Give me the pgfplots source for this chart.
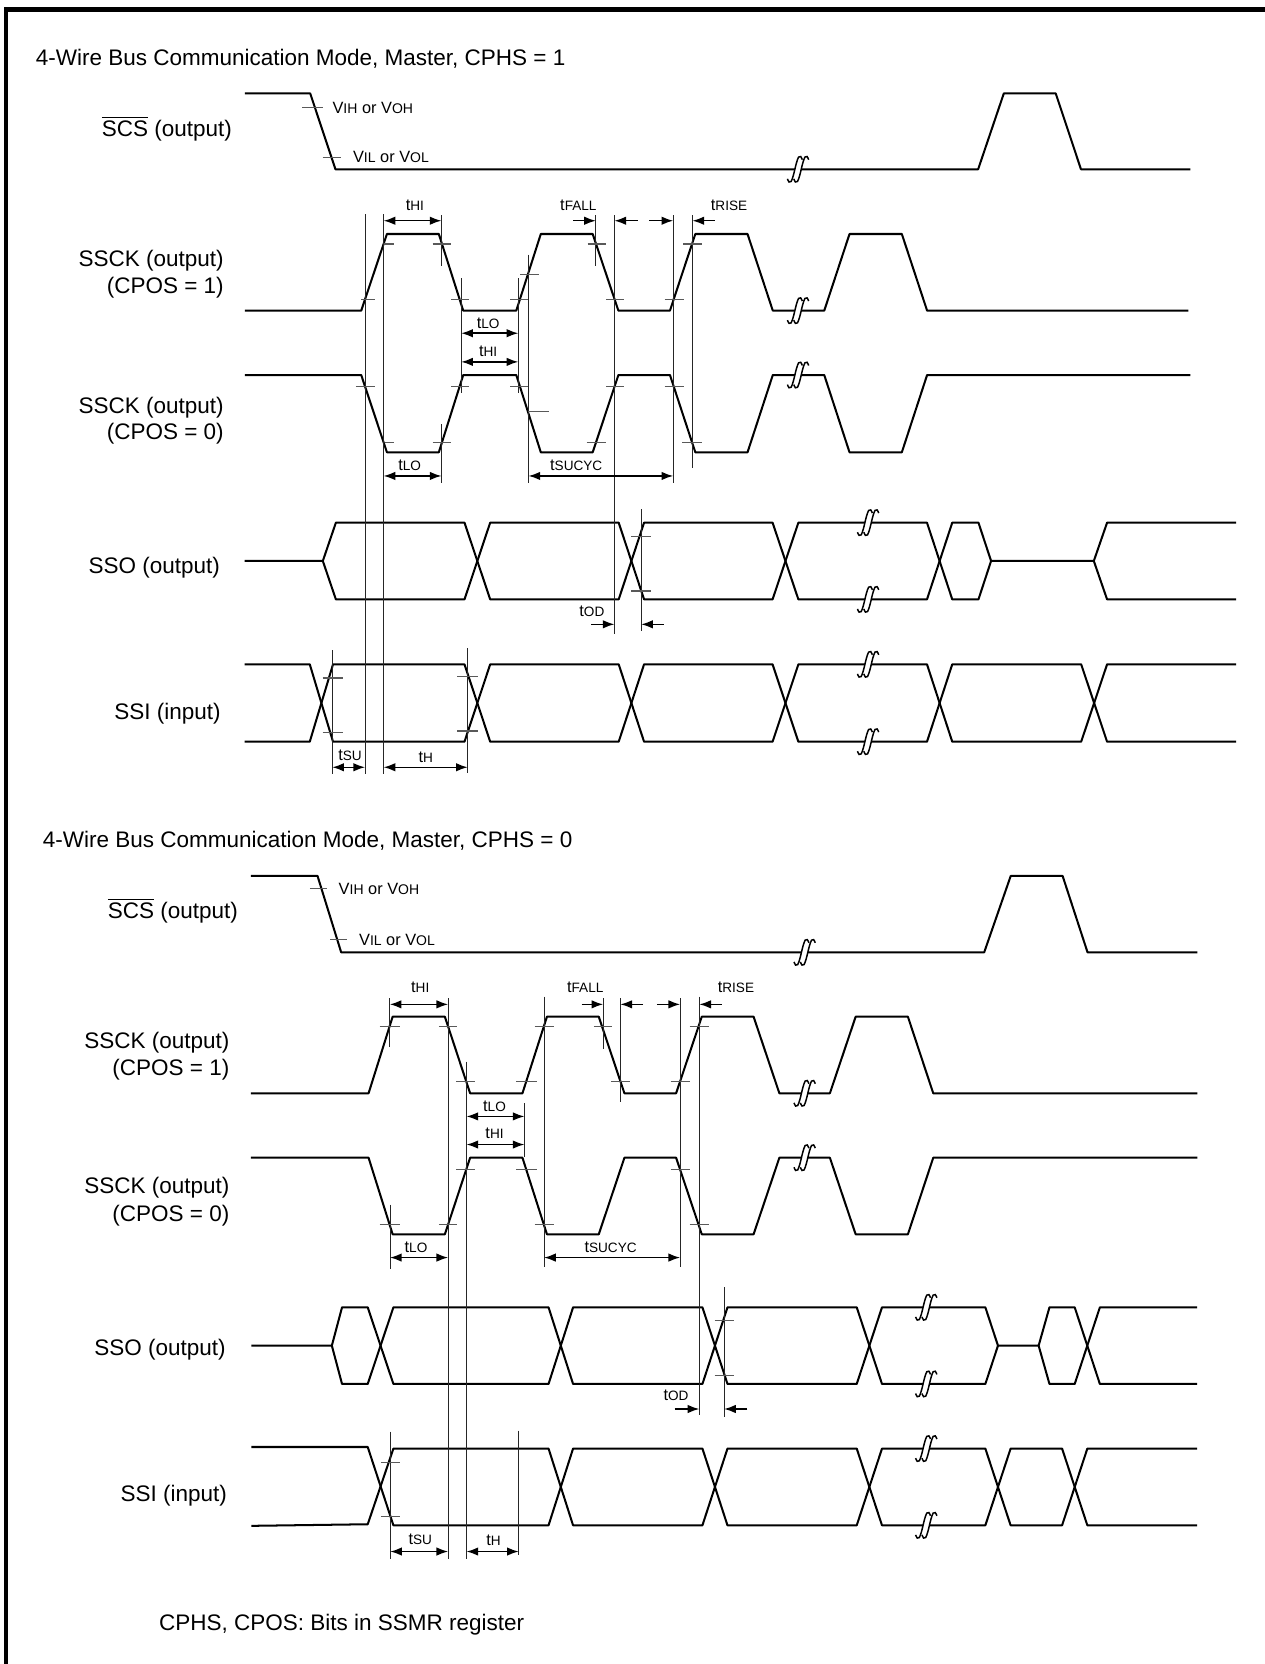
\documentclass[border=0pt]{standalone}
\usepackage{pgfplots}
\pgfplotsset{compat=1.18}
\usetikzlibrary{arrows.meta}
\usepackage{fontspec}
\setmainfont{Liberation Sans}
\newcommand\lbl{\fontsize{10.6}{12.7}\selectfont}
\newcommand\tm[1]{{\fontsize{7.7}{9}\selectfont t}{\fontsize{6.4}{8}\selectfont #1}}
\newcommand\vlev[2]{{\fontsize{7.7}{9}\selectfont V}{\fontsize{6.6}{8}\selectfont #1}{\fontsize{7.7}{9}\selectfont\ or V}{\fontsize{6.6}{8}\selectfont #2}}
\tikzset{L/.style={inner sep=0pt, outer sep=0pt}}
\pgfplotsset{
 wave/.style={black, line width=0.95pt, line join=round},
 guide/.style={black!85, line width=0.45pt},
 tk/.style={black!65, line width=0.5pt},
 dim/.style={black, line width=0.7pt, {Latex[length=5.5pt,width=4pt]}-{Latex[length=5.5pt,width=4pt]}},
 ar/.style={black, line width=0.7pt, -{Latex[length=5.5pt,width=4pt]}},
 brkst/.style={black, line width=0.7pt, smooth, tension=0.6},
}
\newcommand\brk[2]{%
 \addplot[brkst, x filter/.expression={x+#1-3}, y filter/.expression={y+#2}] coordinates {(-7,9)(-5.5,12)(-3.5,11.5)(-1.5,6)(0,0)(1.5,-6)(3.5,-11.5)(5.5,-12)(7,-9)};
 \addplot[brkst, x filter/.expression={x+#1+3}, y filter/.expression={y+#2}] coordinates {(-7,9)(-5.5,12)(-3.5,11.5)(-1.5,6)(0,0)(1.5,-6)(3.5,-11.5)(5.5,-12)(7,-9)};
}
\newcommand\vg[3]{\addplot[guide] coordinates {(#1,#2)(#1,#3)};}
\newcommand\tkk[3]{\addplot[tk] coordinates {(#1,#3)(#2,#3)};}
\begin{document}
\begin{tikzpicture}
\begin{axis}[scale only axis, width=596pt, height=784pt,
  xmin=0, xmax=1192, ymin=0, ymax=1568, y dir=reverse,
  hide axis, clip=false]
% frame
\addplot[black, line width=2pt] coordinates {(5.8,1568)(5.8,9)(1192,9)};

% ================= TOP =================
\node[L, anchor=base west, font=\lbl] at (axis cs:33.8,61.3) {4-Wire Bus Communication Mode, Master, CPHS = 1};
\node[L, anchor=base east, font=\lbl] at (axis cs:218.5,128.2) {$\overline{\mbox{SCS}}$ (output)};
\node[L, anchor=base east, font=\lbl] at (axis cs:210.8,251.3) {SSCK (output)};
\node[L, anchor=base east, font=\lbl] at (axis cs:210.8,276.4) {(CPOS = 1)};
\node[L, anchor=base east, font=\lbl] at (axis cs:210.8,389.5) {SSCK (output)};
\node[L, anchor=base east, font=\lbl] at (axis cs:210.8,414.6) {(CPOS = 0)};
\node[L, anchor=base east, font=\lbl] at (axis cs:207.3,540.3) {SSO (output)};
\node[L, anchor=base east, font=\lbl] at (axis cs:208,677.6) {SSI (input)};
\node[L, anchor=base west] at (axis cs:313.4,106.8) {\vlev{IH}{OH}};
\node[L, anchor=base west] at (axis cs:332.7,153.3) {\vlev{IL}{OL}};

% SCS
\addplot[wave] coordinates {(230.8,88)(292.3,88)(316.1,159.5)(749,159.5)};
\addplot[wave] coordinates {(755,159.5)(921.7,159.5)(945.9,88)(994.8,88)(1018.6,159.5)(1121.7,159.5)};
% SSCK CPOS=1
\addplot[wave] coordinates {(230.8,292.7)(340.4,292.7)(364.6,220.5)(413.5,220.5)(436.5,292.7)(486.5,292.7)(509.6,220.5)(558.5,220.5)(582.7,292.7)(631.3,292.7)(655.2,220.5)(704.4,220.5)(728.2,292.7)(749,292.7)};
\addplot[wave] coordinates {(755,292.7)(776.7,292.7)(800.5,220.5)(849.8,220.5)(873.6,292.7)(1119.7,292.7)};
% SSCK CPOS=0
\addplot[wave] coordinates {(230.8,353.4)(340.4,353.4)(364.6,426.2)(413.5,426.2)(436.5,353.4)(486.5,353.4)(509.6,426.2)(558.5,426.2)(582.7,353.4)(631.3,353.4)(655.2,426.2)(704.4,426.2)(728.2,353.4)(749,353.4)};
\addplot[wave] coordinates {(755,353.4)(776.7,353.4)(800.5,426.2)(849.8,426.2)(873.6,353.4)(1121.7,353.4)};
% SSO
\addplot[wave] coordinates {(230.4,528.6)(304.2,528.6)(316.5,492.5)(437.7,492.5)(461.9,564.8)(583,564.8)(606.9,492.5)(728,492.5)(752.3,564.8)(815,564.8)};
\addplot[wave] coordinates {(821,564.8)(873.5,564.8)(897.3,492.5)(922,492.5)(933.9,528.6)(1030.7,528.6)(1043.2,492.5)(1164.8,492.5)};
\addplot[wave] coordinates {(304.2,528.6)(316.5,564.8)(437.7,564.8)(461.9,492.5)(583,492.5)(606.9,564.8)(728,564.8)(752.3,492.5)(815,492.5)};
\addplot[wave] coordinates {(821,492.5)(873.5,492.5)(897.3,564.8)(922,564.8)(933.9,528.6)};
\addplot[wave] coordinates {(1030.7,528.6)(1043.2,564.8)(1164.8,564.8)};
% SSI
\addplot[wave] coordinates {(230.4,626)(291.9,626)(313.8,698.9)(437.7,698.9)(461.9,626)(583,626)(606.9,698.9)(728,698.9)(752.3,626)(815,626)};
\addplot[wave] coordinates {(821,626)(873.5,626)(897.3,698.9)(1018.8,698.9)(1043.2,626)(1164.8,626)};
\addplot[wave] coordinates {(230.4,698.9)(291.9,698.9)(313.8,626)(437.7,626)(461.9,698.9)(583,698.9)(606.9,626)(728,626)(752.3,698.9)(815,698.9)};
\addplot[wave] coordinates {(821,698.9)(873.5,698.9)(897.3,626)(1018.8,626)(1043.2,698.9)(1164.8,698.9)};
% breaks
\brk{752}{159.5}\brk{752}{292.7}\brk{752}{353.4}
\brk{818}{492.5}\brk{818}{564.8}\brk{818}{626}\brk{818}{698.9}
% guides
\vg{344}{202}{729}\vg{361.5}{202}{729}\vg{416}{203}{251}\vg{416}{400}{455}
\vg{434.6}{262}{370}\vg{488.4}{262}{370}\vg{498}{240}{455}\vg{561.5}{203}{251}
\vg{579}{203}{597}\vg{634.4}{203}{455}\vg{652.5}{203}{441}\vg{604.2}{480}{595}
\vg{313.1}{612.5}{729}\vg{440.7}{611}{728}
% ticks
\tkk{285}{304}{101}\tkk{304}{321}{148}
\tkk{340.4}{353.8}{282.1}\tkk{361.5}{371}{229.9}
\tkk{407.7}{425}{229.9}\tkk{425}{442.3}{282.1}
\tkk{480.8}{498}{282.1}\tkk{490.4}{507.7}{259.1}
\tkk{553.8}{571.1}{229.9}\tkk{571.1}{588.4}{282.1}
\tkk{626.3}{644.8}{282.1}\tkk{643.6}{661.3}{229.9}
\tkk{335.4}{353.1}{364.4}\tkk{362.7}{371.1}{417.1}
\tkk{407.7}{425}{417.1}\tkk{425}{442.3}{364.4}
\tkk{480.8}{498}{364.4}\tkk{498}{517.3}{387.9}
\tkk{552.7}{571.1}{417.1}\tkk{571.1}{588.4}{364.4}
\tkk{626.3}{644.8}{364.4}\tkk{642.8}{661.3}{417.1}
\tkk{594.6}{613}{505.7}\tkk{594.6}{613}{556.9}
\tkk{304}{323}{638.9}\tkk{304}{323}{690.4}
\tkk{431}{450}{637.6}\tkk{431}{450}{688.8}
% dimension arrows
\addplot[dim] coordinates {(361.5,208)(416,208)};
\addplot[ar] coordinates {(540,208)(561.5,208)};
\addplot[ar] coordinates {(601,208)(579,208)};
\addplot[ar] coordinates {(612,208)(634.4,208)};
\addplot[ar] coordinates {(673.6,208)(652.5,208)};
\addplot[dim] coordinates {(434.6,314)(488.4,314)};
\addplot[dim] coordinates {(434.6,341)(488.4,341)};
\addplot[dim] coordinates {(361.5,448.5)(416,448.5)};
\addplot[dim] coordinates {(498,448.5)(634.4,448.5)};
\addplot[ar] coordinates {(557,588.3)(579,588.3)};
\addplot[ar] coordinates {(625.4,588.3)(604.2,588.3)};
\addplot[dim] coordinates {(313.1,723)(344,723)};
\addplot[dim] coordinates {(361.5,723)(440.7,723)};
\node[L, anchor=base] at (axis cs:391,197.9) {\tm{HI}};
\node[L, anchor=base] at (axis cs:545,197.9) {\tm{FALL}};
\node[L, anchor=base] at (axis cs:687,198.5) {\tm{RISE}};
\node[L, anchor=base] at (axis cs:460,309.5) {\tm{LO}};
\node[L, anchor=base] at (axis cs:460,336) {\tm{HI}};
\node[L, anchor=base] at (axis cs:386,443.5) {\tm{LO}};
\node[L, anchor=base] at (axis cs:543,443.5) {\tm{SUCYC}};
\node[L, anchor=base] at (axis cs:557.7,581.1) {\tm{OD}};
\node[L, anchor=base] at (axis cs:329.8,717) {\tm{SU}};
\node[L, anchor=base] at (axis cs:401.3,718.5) {\tm{H}};

% ================= BOTTOM =================
\node[L, anchor=base west, font=\lbl] at (axis cs:40.4,798.4) {4-Wire Bus Communication Mode, Master, CPHS = 0};
\node[L, anchor=base east, font=\lbl] at (axis cs:224.2,865.3) {$\overline{\mbox{SCS}}$ (output)};
\node[L, anchor=base east, font=\lbl] at (axis cs:216.1,987.8) {SSCK (output)};
\node[L, anchor=base east, font=\lbl] at (axis cs:216.1,1013.9) {(CPOS = 1)};
\node[L, anchor=base east, font=\lbl] at (axis cs:216.1,1125) {SSCK (output)};
\node[L, anchor=base east, font=\lbl] at (axis cs:216.1,1151.2) {(CPOS = 0)};
\node[L, anchor=base east, font=\lbl] at (axis cs:212.7,1277.5) {SSO (output)};
\node[L, anchor=base east, font=\lbl] at (axis cs:213.8,1415) {SSI (input)};
\node[L, anchor=base west] at (axis cs:319.2,843.3) {\vlev{IH}{OH}};
\node[L, anchor=base west] at (axis cs:338.4,891.4) {\vlev{IL}{OL}};
\node[L, anchor=base west, font=\lbl] at (axis cs:150,1536.5) {CPHS, CPOS: Bits in SSMR register};

% SCS
\addplot[wave] coordinates {(236.5,825.4)(299.2,825.4)(321.5,897.4)(755.2,897.4)};
\addplot[wave] coordinates {(761.2,897.4)(927.4,897.4)(952.4,825.4)(1001.3,825.4)(1024.8,897.4)(1128.2,897.4)};
% SSCK CPOS=1
\addplot[wave] coordinates {(236.5,1030.2)(347.3,1030.2)(370,958)(419.2,958)(443,1030.2)(492.3,1030.2)(515.4,958)(564.2,958)(588.4,1030.2)(637.1,1030.2)(661.3,958)(710.1,958)(734.4,1030.2)(755.2,1030.2)};
\addplot[wave] coordinates {(761.2,1030.2)(782,1030.2)(806.3,958)(855.5,958)(879.4,1030.2)(1128.2,1030.2)};
% SSCK CPOS=0
\addplot[wave] coordinates {(236.5,1090.9)(347.3,1090.9)(370,1163.1)(419.2,1163.1)(443,1090.9)(492.3,1090.9)(515.4,1163.1)(564.2,1163.1)(588.4,1090.9)(637.1,1090.9)(661.3,1163.1)(710.1,1163.1)(734.4,1090.9)(755.2,1090.9)};
\addplot[wave] coordinates {(761.2,1090.9)(782,1090.9)(806.3,1163.1)(855.5,1163.1)(879.4,1090.9)(1128.2,1090.9)};
% SSO
\addplot[wave] coordinates {(236.9,1268)(312.7,1268)(322.3,1231.9)(346.5,1231.9)(370.7,1304.1)(516.9,1304.1)(540,1231.9)(661.9,1231.9)(685.5,1304.1)(807.3,1304.1)(831.1,1231.9)(869.8,1231.9)};
\addplot[wave] coordinates {(875.8,1231.9)(928.5,1231.9)(940.4,1268)(978.7,1268)(988.9,1231.9)(1012.7,1231.9)(1036.4,1304.1)(1128.1,1304.1)};
\addplot[wave] coordinates {(312.7,1268)(322.3,1304.1)(346.5,1304.1)(370.7,1231.9)(516.9,1231.9)(540,1304.1)(661.9,1304.1)(685.5,1231.9)(807.3,1231.9)(831.1,1304.1)(869.8,1304.1)};
\addplot[wave] coordinates {(875.8,1304.1)(928.5,1304.1)(940.4,1268)};
\addplot[wave] coordinates {(978.7,1268)(988.9,1304.1)(1012.7,1304.1)(1036.4,1231.9)(1128.1,1231.9)};
% SSI
\addplot[wave] coordinates {(236.9,1363.5)(346.5,1363.5)(370.7,1437.3)(516.9,1437.3)(540,1365)(661.9,1365)(685.5,1437.3)(807.3,1437.3)(831.1,1365)(869.8,1365)};
\addplot[wave] coordinates {(875.8,1365)(928.5,1365)(952.3,1437.3)(1000.8,1437.3)(1024.6,1365)(1128.1,1365)};
\addplot[wave] coordinates {(236.9,1437.8)(346.5,1436.3)(370.7,1365)(516.9,1365)(540,1437.3)(661.9,1437.3)(685.5,1365)(807.3,1365)(831.1,1437.3)(869.8,1437.3)};
\addplot[wave] coordinates {(875.8,1437.3)(928.5,1437.3)(952.3,1365)(1000.8,1365)(1024.6,1437.3)(1128.1,1437.3)};
% breaks
\brk{758.2}{897.4}\brk{758.2}{1030.2}\brk{758.2}{1090.9}
\brk{872.8}{1231.9}\brk{872.8}{1304.1}\brk{872.8}{1365}\brk{872.8}{1437.3}
% guides
\vg{367.3}{940.7}{986.3}\vg{422.3}{940.7}{1469}\vg{439.6}{1000.4}{1469}
\vg{494.2}{1039.7}{1090}\vg{512.7}{939}{1194}\vg{568.4}{940.7}{988}
\vg{584.6}{940.7}{1038}\vg{640.9}{940.7}{1194}\vg{659}{939}{1333.3}
\vg{367.5}{1135}{1196}\vg{682.3}{1213}{1335}\vg{367.7}{1349}{1469}\vg{488.8}{1348}{1465}
% ticks
\tkk{292}{308}{837.4}\tkk{311}{327}{885.7}
\tkk{357.7}{377}{967.4}
\tkk{413.5}{430.8}{967.4}\tkk{430}{448}{1019.2}
\tkk{486.5}{505.7}{1019.2}\tkk{503.8}{522.3}{967.4}
\tkk{559.6}{577}{967.4}\tkk{576}{594}{1019.2}
\tkk{632}{650.5}{1019.2}\tkk{649.8}{667.8}{967.4}
\tkk{357.7}{377}{1153.7}
\tkk{413.5}{430.8}{1153.7}\tkk{430}{448}{1101.8}
\tkk{486.5}{505.7}{1101.8}\tkk{503.8}{522.3}{1153.7}
\tkk{632}{650.5}{1101.8}\tkk{649.8}{667.8}{1153.7}
\tkk{673.4}{692}{1244.4}\tkk{673.4}{692}{1296}
\tkk{358.8}{377.3}{1377.9}\tkk{358.8}{377.3}{1429.1}
% dimension arrows
\addplot[dim] coordinates {(367.3,946.4)(422.3,946.4)};
\addplot[ar] coordinates {(548,946.4)(568.4,946.4)};
\addplot[ar] coordinates {(606,946.4)(584.6,946.4)};
\addplot[ar] coordinates {(619,946.4)(640.9,946.4)};
\addplot[ar] coordinates {(680,946.4)(659,946.4)};
\addplot[dim] coordinates {(439.6,1052)(494.2,1052)};
\addplot[dim] coordinates {(439.6,1078.5)(494.2,1078.5)};
\addplot[dim] coordinates {(367.5,1185)(422.3,1185)};
\addplot[dim] coordinates {(512.7,1185)(640.9,1185)};
\addplot[ar] coordinates {(635.8,1327.7)(659,1327.7)};
\addplot[ar] coordinates {(704.2,1327.7)(682.3,1327.7)};
\addplot[dim] coordinates {(367.7,1462)(422.3,1462)};
\addplot[dim] coordinates {(439.6,1462)(488.8,1462)};
\node[L, anchor=base] at (axis cs:396,935) {\tm{HI}};
\node[L, anchor=base] at (axis cs:551.5,935) {\tm{FALL}};
\node[L, anchor=base] at (axis cs:693.5,935) {\tm{RISE}};
\node[L, anchor=base] at (axis cs:466,1047) {\tm{LO}};
\node[L, anchor=base] at (axis cs:466,1073) {\tm{HI}};
\node[L, anchor=base] at (axis cs:392,1180.5) {\tm{LO}};
\node[L, anchor=base] at (axis cs:575.4,1180.5) {\tm{SUCYC}};
\node[L, anchor=base] at (axis cs:637,1319.8) {\tm{OD}};
\node[L, anchor=base] at (axis cs:396,1455.8) {\tm{SU}};
\node[L, anchor=base] at (axis cs:465,1456.7) {\tm{H}};
\end{axis}
\pgfresetboundingbox
\path (current axis.south west) rectangle (current axis.north east);
\end{tikzpicture}
\end{document}
